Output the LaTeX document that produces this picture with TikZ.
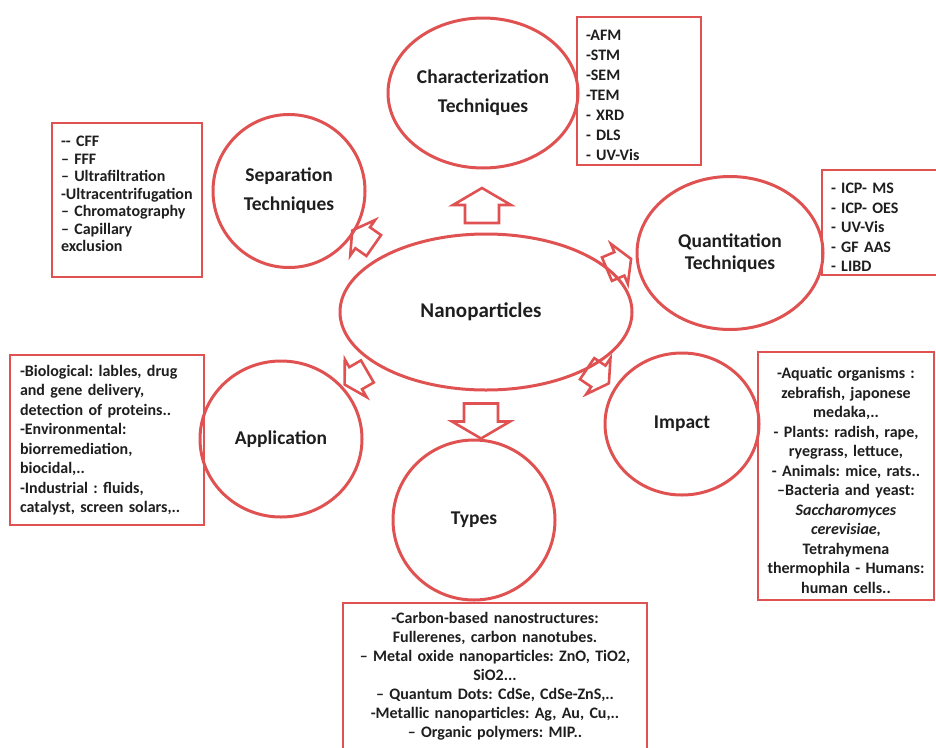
\documentclass[tikz,border=0pt]{standalone}
\usepackage{fontspec}
\setmainfont{Carlito}
\usetikzlibrary{shapes.geometric}
\definecolor{redline}{RGB}{224,82,82}
\definecolor{txt}{RGB}{30,30,30}
\newcommand{\topfill}{\rule{0pt}{20pt}}
\begin{document}
\frenchspacing
\begin{tikzpicture}[x=1pt,y=-1pt,
  every node/.style={text=txt, font=\bfseries},
  circ/.style={draw=redline, line width=3pt, ellipse, inner sep=0pt, align=center,
     font=\bfseries\fontsize{19.5}{29}\selectfont},
  box/.style={draw=redline, line width=2.8pt, rectangle, anchor=north west, outer sep=0pt,
     inner xsep=9pt, inner ysep=0pt, font=\bfseries\frenchspacing\fontsize{16}{19.5}\selectfont},
  arr/.style={draw=redline, line width=2.6pt, line join=miter},
  blockarr/.pic={\draw[arr] (-17.5,-17) -- (0.5,-17) -- (0.5,-29) -- (17.5,0) -- (0.5,29) -- (0.5,17) -- (-17.5,17) -- cycle;}
]
\useasboundingbox (0,0) rectangle (936,747);

% satellite ellipses
\node[circ, minimum width=190pt, minimum height=150pt] (char) at (483,93) {Characterization\\Techniques};
\node[circ, minimum width=152pt, minimum height=153pt] (sep) at (289,191) {Separation\\Techniques};
\node[circ, minimum width=186pt, minimum height=153pt, font=\bfseries\fontsize{19.5}{21.5}\selectfont] (quant) at (730,253) {Quantitation\\Techniques};
\node[circ, minimum width=292pt, minimum height=156pt, font=\bfseries\fontsize{21}{25}\selectfont] (nano) at (486,312) {Nanoparticles\hspace*{10pt}};
\node[circ, minimum width=162pt, minimum height=156pt] (app) at (281,439) {Application};
\node[circ, minimum width=154pt, minimum height=142pt] (imp) at (682,424) {Impact};
\node[circ, minimum width=162pt, minimum height=160pt] (types) at (474,520) {Types};

% boxes
\node[box, minimum width=124pt, minimum height=148pt, text width=106pt, align=left,
      font=\bfseries\frenchspacing\fontsize{16}{20}\selectfont] (charbox) at (577,17)
  {\topfill-AFM\\-STM\\-SEM\\-TEM\\- XRD\\- DLS\\- UV-Vis};
\node[box, minimum width=150pt, minimum height=154pt, text width=132pt, align=left,
      font=\bfseries\frenchspacing\fontsize{16}{17.5}\selectfont] (sepbox) at (52,123)
  {\rule{0pt}{16pt}-{}- CFF\\– FFF\\– Ultrafiltration\\-Ultracentrifugation\\– Chromatography\\– Capillary\\exclusion\\~};
\node[box, minimum width=116pt, minimum height=105pt, text width=98pt, align=left] (quantbox) at (822,170)
  {\topfill- ICP- MS\\- ICP- OES\\- UV-Vis\\- GF AAS\\- LIBD};
\node[box, minimum width=192pt, minimum height=170pt, text width=174pt, align=left, inner xsep=10pt] (appbox) at (10,355)
  {-Biological: lables, drug\\and gene delivery,\\detection of proteins..\\-Environmental:\\biorremediation,\\biocidal,..\\-Industrial : fluids,\\catalyst, screen solars,..};
\node[box, minimum width=176pt, minimum height=248pt, text width=158pt, align=center] (impbox) at (758,352)
  {\topfill-Aquatic organisms :\\zebrafish, japonese\\medaka,..\\- Plants: radish, rape,\\ryegrass, lettuce,\\- Animals: mice, rats..\\–Bacteria and yeast:\\\textit{Saccharomyces}\\\textit{cerevisiae,}\\Tetrahymena\\thermophila - Humans:\\human cells..};
\node[box, minimum width=304pt, minimum height=147pt, text width=286pt, align=center,
      font=\bfseries\frenchspacing\fontsize{16}{19}\selectfont] (typesbox) at (343,603)
  {-Carbon-based nanostructures:\\Fullerenes, carbon nanotubes.\\– Metal oxide nanoparticles: ZnO, TiO2,\\SiO2...\\– Quantum Dots: CdSe, CdSe-ZnS,..\\-Metallic nanoparticles: Ag, Au, Cu,..\\– Organic polymers: MIP..};

% block arrows
\pic[rotate=90] at (482,205.5) {blockarr};
\pic[rotate=-90] at (481,421) {blockarr};
\pic[rotate=145, scale=0.75] at (363,238) {blockarr};
\pic[rotate=23, scale=0.75] at (619,264) {blockarr};
\pic[rotate=210, scale=0.75] at (356,378) {blockarr};
\pic[rotate=-34, scale=0.75] at (598,376) {blockarr};
\end{tikzpicture}
\end{document}
